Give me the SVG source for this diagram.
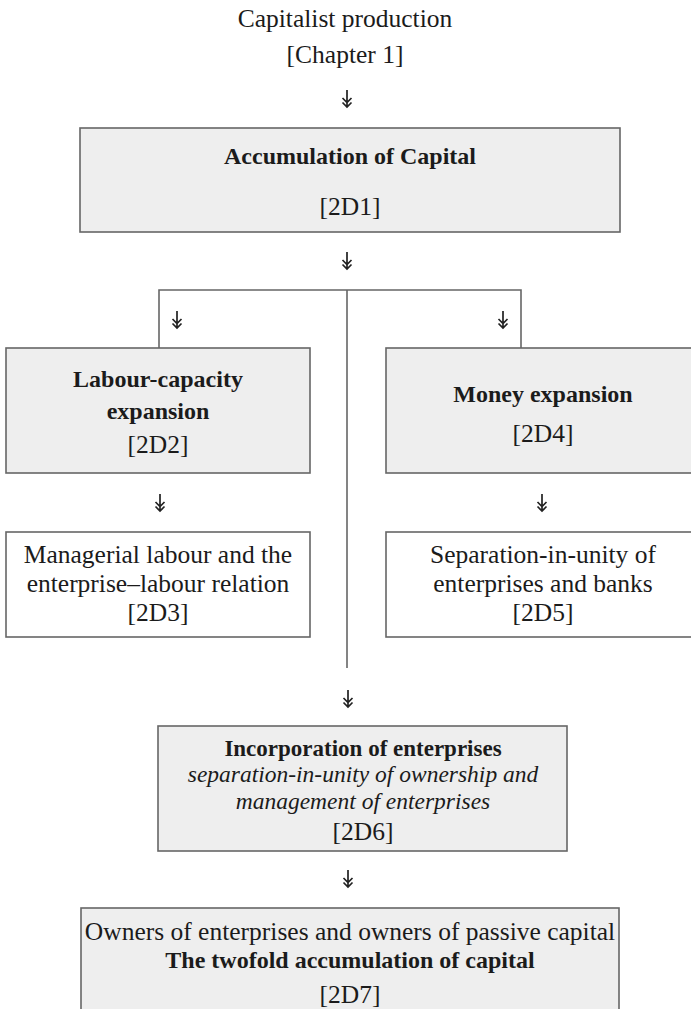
<svg xmlns="http://www.w3.org/2000/svg" width="691" height="1009" viewBox="0 0 691 1009">
<defs>
<style>
.box{stroke:#666;stroke-width:1.6}
.g{fill:#eeeeee}
.w{fill:#ffffff}
text{font-family:"Liberation Serif","Times New Roman",serif;fill:#1b1b1b;text-anchor:middle}
.r{font-size:25.5px}
.b{font-size:24px;font-weight:bold}
.b2{font-size:23px;font-weight:bold}
.i{font-size:23.5px;font-style:italic}
.ln{stroke:#666;stroke-width:1.6;fill:none}
</style>
<symbol id="arr" viewBox="-6 0 12 18" width="12" height="18" overflow="visible">
<path d="M0,0 V17 M-4.5,8 L0,12.5 L4.5,8 M-4.5,12.5 L0,17 L4.5,12.5" stroke="#222" stroke-width="1.7" fill="none"/>
</symbol>
</defs>
<rect width="691" height="1009" fill="#fff"/>

<g id="start">
<text class="r" x="345" y="27">Capitalist production</text>
<text class="r" x="345" y="63">[Chapter 1]</text>
</g>

<g id="n2D1">
<rect class="box g" x="80" y="128" width="540" height="104"/>
<text class="b" x="350" y="164">Accumulation of Capital</text>
<text class="r" x="350" y="215">[2D1]</text>
</g>

<g id="n2D2">
<rect class="box g" x="6" y="348" width="304" height="125"/>
<text class="b" x="158" y="387">Labour-capacity</text>
<text class="b" x="158" y="419">expansion</text>
<text class="r" x="158" y="453">[2D2]</text>
</g>

<g id="n2D4">
<rect class="box g" x="386" y="348" width="320" height="125"/>
<text class="b" x="543" y="402">Money expansion</text>
<text class="r" x="543" y="442">[2D4]</text>
</g>

<g id="n2D3">
<rect class="box w" x="6" y="532" width="304" height="105"/>
<text class="r" x="158" y="563">Managerial labour and the</text>
<text class="r" x="158" y="592">enterprise–labour relation</text>
<text class="r" x="158" y="621">[2D3]</text>
</g>

<g id="n2D5">
<rect class="box w" x="386" y="532" width="320" height="105"/>
<text class="r" x="543" y="563">Separation-in-unity of</text>
<text class="r" x="543" y="592">enterprises and banks</text>
<text class="r" x="543" y="621">[2D5]</text>
</g>

<g id="n2D6">
<rect class="box g" x="158" y="726" width="409" height="125"/>
<text class="b2" x="363" y="756">Incorporation of enterprises</text>
<text class="i" x="363" y="782">separation-in-unity of ownership and</text>
<text class="i" x="363" y="808.5">management of enterprises</text>
<text class="r" x="363" y="840">[2D6]</text>
</g>

<g id="n2D7">
<rect class="box g" x="81" y="908" width="538" height="120"/>
<text class="r" x="350" y="940">Owners of enterprises and owners of passive capital</text>
<text class="b" x="350" y="968">The twofold accumulation of capital</text>
<text class="r" x="350" y="1003">[2D7]</text>
</g>

<g id="connectors">
<path class="ln" d="M159,348 V290 H521 V348 M347,290 V668"/>
<use href="#arr" x="341" y="90"/>
<use href="#arr" x="341" y="252"/>
<use href="#arr" x="171" y="311"/>
<use href="#arr" x="497" y="311"/>
<use href="#arr" x="154" y="494"/>
<use href="#arr" x="536" y="494"/>
<use href="#arr" x="342" y="690"/>
<use href="#arr" x="342" y="870"/>
</g>
</svg>
